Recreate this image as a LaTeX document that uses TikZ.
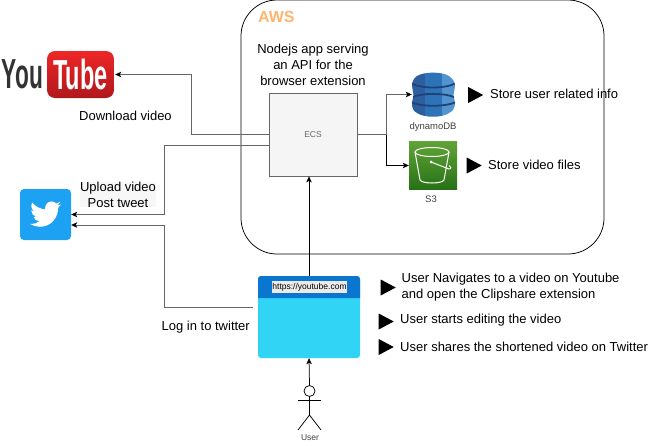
\documentclass[tikz,border=0pt]{standalone}
\usepackage{fontspec}
\setmainfont{Liberation Sans}
\usetikzlibrary{arrows.meta,shapes.geometric}
\definecolor{awsorange}{RGB}{255, 181, 112}
\definecolor{linegray}{RGB}{102, 102, 102}
\definecolor{ecsfill}{RGB}{245, 245, 245}
\definecolor{ytred}{RGB}{238, 38, 38}
\definecolor{ytdark}{RGB}{176, 24, 28}
\definecolor{twblue}{RGB}{29, 161, 242}
\definecolor{ddbleft}{RGB}{45, 95, 158}
\definecolor{ddbmid}{RGB}{46, 115, 184}
\definecolor{ddbright}{RGB}{82, 148, 207}
\definecolor{ddbband}{RGB}{32, 66, 120}
\definecolor{sthree}{RGB}{96, 163, 55}
\definecolor{sthreedark}{RGB}{39, 113, 22}
\definecolor{barblue}{RGB}{11, 118, 208}
\definecolor{browsercyan}{RGB}{49, 212, 245}
\tikzset{
  conn/.style={draw=linegray, line width=0.75pt, -{Stealth[length=6pt,width=5.5pt,inset=1.5pt,color=black]}},
  connblack/.style={conn, draw=black},
  plainlabel/.style={inner sep=0pt, font=\fontsize{13}{16}\selectfont, align=center},
  sidenote/.style={plainlabel, anchor=west, align=left},
  smalllabel/.style={inner sep=0pt, text=black!75, font=\fontsize{9.5}{11}\selectfont},
  marker/.style={isosceles triangle, isosceles triangle stretches, fill=black, inner sep=0pt,
    minimum width=16pt, minimum height=15pt}
}
\begin{document}
\begin{tikzpicture}[x=1pt, y=-1pt]
  \useasboundingbox (0,0) rectangle (660,445);

  % Cloud box
  \node[draw, line width=0.75pt, rounded corners=36pt, minimum width=363pt, minimum height=254pt, inner sep=0pt] (aws) at (422.5,127) {};
  \node[anchor=west, inner sep=0pt, text=awsorange, font=\fontsize{16}{18}\bfseries\selectfont] (awstitle) at (258,17) {AWS};
  \node[plainlabel] (ecstitle) at (313,65) {Nodejs app serving\\an API for the\\browser extension};
  \node[draw=linegray, fill=ecsfill, line width=0.75pt, minimum width=88pt, minimum height=83pt, inner sep=0pt, text=linegray, font=\fontsize{8.5}{10}\selectfont] (ecs) at (313,134.5) {ECS};

  % Logos
  \node[anchor=center, inner sep=0pt, text=black!80, font=\fontsize{42}{42}\bfseries\selectfont] (ytyou) at (22.5,74.5) {\scalebox{.54}[1]{You}};
  \node[rounded corners=8pt, top color=ytred, bottom color=ytdark, minimum width=67pt, minimum height=47pt, inner sep=0pt, text=white, font=\fontsize{42}{42}\bfseries\selectfont] (ytlogo) at (80.5,74.5) {\scalebox{.56}[1]{Tube}};
  \node[plainlabel] (ytlabel) at (125.5,116) {Download video};

  \node[fill=twblue, rounded corners=4pt, minimum width=51pt, minimum height=51pt, inner sep=0pt] (twitter) at (45.5,214.5) {};
  \begin{scope}[shift={(30,198.5)}, x=1.3pt, y=-1.3pt]
    \fill[white] (23.95,4.57) .. controls (23.1,4.95) and (22.1,5.2) .. (21.13,5.35)
      .. controls (22.15,4.72) and (22.9,3.77) .. (23.29,2.62)
      .. controls (22.34,3.18) and (21.29,3.58) .. (20.16,3.81)
      .. controls (19.25,2.85) and (18,2.28) .. (16.6,2.28)
      .. controls (13.88,2.28) and (11.68,4.48) .. (11.68,7.2)
      .. controls (11.68,7.57) and (11.7,7.93) .. (11.78,8.29)
      .. controls (7.69,8.1) and (4.07,6.13) .. (1.64,3.16)
      .. controls (1.2,3.9) and (0.97,4.75) .. (0.97,5.64)
      .. controls (0.97,7.35) and (1.84,8.85) .. (3.16,9.73)
      .. controls (2.35,9.7) and (1.6,9.49) .. (0.93,9.12)
      -- (0.93,9.18)
      .. controls (0.93,11.55) and (2.62,13.55) .. (4.88,14)
      .. controls (4.18,14.19) and (3.4,14.22) .. (2.67,14.09)
      .. controls (3.3,16.05) and (5.12,17.47) .. (7.27,17.51)
      .. controls (5.6,18.8) and (3.5,19.61) .. (1.17,19.61)
      .. controls (0.78,19.61) and (0.39,19.59) .. (0,19.54)
      .. controls (2.18,20.94) and (4.77,21.75) .. (7.56,21.75)
      .. controls (16.61,21.75) and (21.56,14.26) .. (21.56,7.77)
      .. controls (21.56,7.56) and (21.56,7.35) .. (21.54,7.14)
      .. controls (22.5,6.45) and (23.34,5.58) .. (24,4.59) -- cycle;
  \end{scope}
  \node[plainlabel, fill=black!3] (uploadlabel) at (118,194.5) {Upload video\\Post tweet};

  % DynamoDB icon
  \node[minimum width=42pt, minimum height=44pt, inner sep=0pt] (dynamo) at (433,94.5) {};
  \begin{scope}
    \clip (417,76) .. controls (424,71.5) and (442,71.5) .. (449,76)
      .. controls (453,79) and (455,82) .. (455,86) -- (453.5,95) -- (455,103)
      .. controls (455,108) and (453,111) .. (449,113)
      .. controls (442,118) and (424,118) .. (417,113)
      .. controls (413,111) and (412,108) .. (412,103) -- (413.5,95) -- (412,86)
      .. controls (412,82) and (413,79) .. (417,76) -- cycle;
    \fill[ddbleft] (411,72) rectangle (425,118);
    \fill[ddbmid] (425,72) rectangle (442,118);
    \fill[ddbright] (442,72) rectangle (456,118);
    \draw[ddbband, line width=1.8pt] (411,83) .. controls (420,89) and (446,89) .. (456,83);
    \draw[ddbband, line width=1.8pt] (411,98) .. controls (420,92.5) and (446,92.5) .. (456,98);
    \draw[ddbband, line width=1.8pt] (411,102) .. controls (420,107) and (446,107) .. (456,102);
  \end{scope}
  \node[smalllabel] (dynamolabel) at (433,127) {dynamoDB};

  % S3 icon
  \node[top color=sthree, bottom color=sthreedark, minimum width=48pt, minimum height=48pt, inner sep=0pt] (sthreebox) at (433,165.5) {};
  \begin{scope}[white, line width=1pt]
    \draw (432,152) ellipse (17pt and 4.5pt);
    \draw (415,152) -- (420,180) .. controls (422,184) and (442,184) .. (444,180) -- (449,152);
    \draw (431,162) -- (449,169) .. controls (452,169) and (451,166) .. (449,165.5);
    \fill (431,162) circle (1.5pt);
  \end{scope}
  \node[smalllabel] (sthreelabel) at (431,199) {S3};

  % Browser window
  \node[fill=browsercyan, rounded corners=3pt, minimum width=102pt, minimum height=82pt, inner sep=0pt] (browser) at (309,317) {};
  \fill[barblue] (258,298) [rounded corners=3pt] -- (258,276) -- (360,276) [sharp corners] -- (360,298) -- cycle;
  \node[fill=black!8, minimum width=75pt, minimum height=12pt, inner sep=0pt, text=black, font=\fontsize{8.5}{10}\selectfont] (urlbar) at (309.5,287) {https://youtube.com};
  \node[plainlabel, anchor=east] (loginlabel) at (250,327) {Log in to twitter};

  % User
  \node[draw, circle, line width=0.75pt, fill=white, minimum size=11pt, inner sep=0pt] (head) at (309.5,391) {};
  \coordinate (neck) at (309.5,400);
  \coordinate (hip) at (309.5,415);
  \draw[line width=0.75pt] (head.south) -- (hip);
  \draw[line width=0.75pt] (298,400) -- (neck) -- (321,400);
  \draw[line width=0.75pt] (298,430) -- (hip) -- (321,430);
  \node[smalllabel, font=\fontsize{8.5}{10}\selectfont] (userlabel) at (310,438) {User};

  % Notes
  \node[marker] (markone) at (473,95) {};
  \node[sidenote] (noteone) at (490,94) {Store user related info};
  \node[marker] (marktwo) at (471.5,165.5) {};
  \node[sidenote] (notetwo) at (488,165) {Store video files};
  \node[marker] (markthree) at (385.5,287.5) {};
  \node[sidenote] (notethree) at (401.5,287) {User Navigates to a video on Youtube\\and open the Clipshare extension};
  \node[marker] (markfour) at (383.5,321.5) {};
  \node[sidenote] (notefour) at (400,320) {User starts editing the video};
  \node[marker] (markfive) at (383.5,347) {};
  \node[sidenote] (notefive) at (400,346.5) {User shares the shortened video on Twitter};

  % Arrows
  \coordinate (fork) at (386.7,134.5);
  \coordinate (loginstart) at (253,307);
  \draw[conn, shorten >=1pt] (ecs.west) -- ++(-77,0) |- (ytlogo.east);
  \draw[conn] ([yshift=-11pt]ecs.west) -- ++(-104.3,0) |- (twitter.east);
  \draw[conn] (loginstart) -- ++(-88.3,0) |- ([yshift=-10.5pt]twitter.east);
  \draw[conn] (ecs.east) -- (fork) |- (dynamo.west);
  \draw[connblack] (fork) |- (sthreebox.west);
  \draw[connblack] (browser.north) -- (browser.north |- ecs.south);
  \draw[connblack] (head.north) -- (browser.south);
\end{tikzpicture}
\end{document}
